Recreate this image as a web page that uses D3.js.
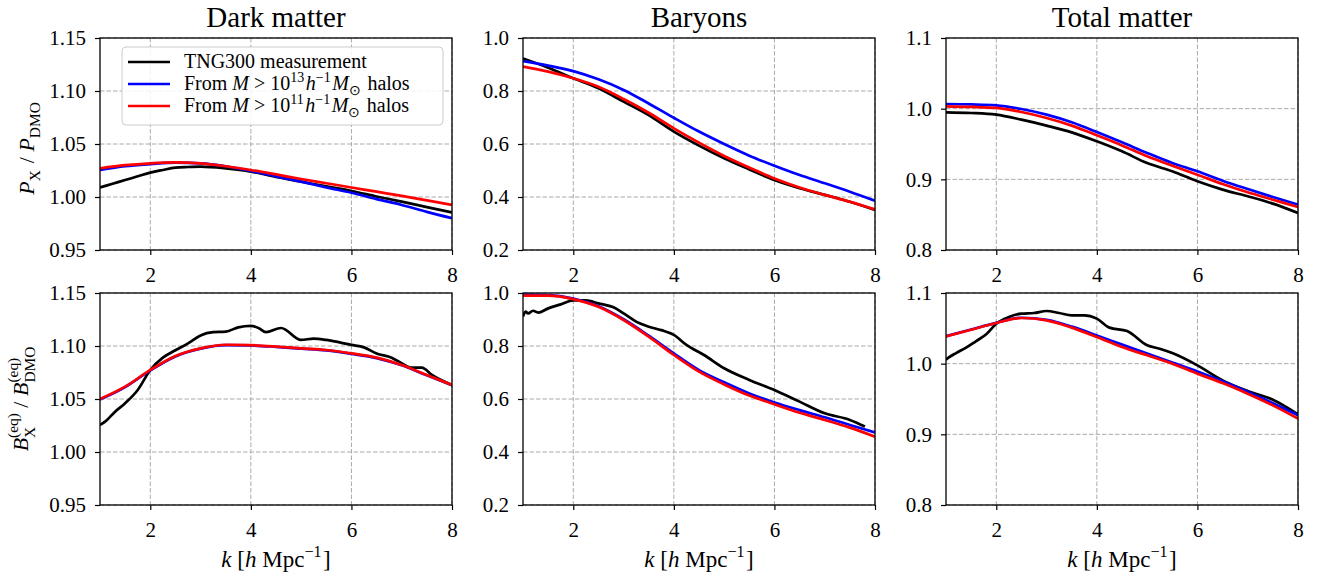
<!DOCTYPE html>
<html><head><meta charset="utf-8">
<script src="https://cdn.jsdelivr.net/npm/d3@7"></script>
<style>body{margin:0;background:#fff}svg{display:block}</style>
</head><body>
<svg id="c" width="1320" height="578"></svg>
<script>
// ---------------- data ----------------
const kGrid = [1,1.5,2,2.5,3,3.5,4,4.5,5,5.5,6,6.5,7,7.5,8];
const xTicks = [2,4,6,8];
const titles = ["Dark matter","Baryons","Total matter"];
const legendLabels = ["TNG300 measurement","From M > 10^13","From M > 10^11"];

// Dark matter, power ratio
const dmP_kMeas = [1,1.25,1.5,1.75,2,2.25,2.5,2.75,3,3.5,4,4.5,5,5.5,6,6.5,7,7.5,8];
const dmP_meas = [1.009,1.0125,1.016,1.0195,1.023,1.0255,1.0277,1.0283,1.0286,1.027,1.024,1.019,1.0145,1.010,1.0057,1.0005,0.9956,0.9905,0.9855];
const dmP_m13  = [1.0255,1.029,1.031,1.0324,1.0318,1.029,1.0245,1.0195,1.0145,1.009,1.004,0.998,0.9925,0.986,0.980];
const dmP_m11  = [1.027,1.030,1.0318,1.0327,1.0318,1.029,1.0255,1.0213,1.017,1.013,1.009,1.005,1.001,0.9968,0.9925];
// Dark matter, bispectrum ratio
const dmB_kMeas = [1,1.05,1.1,1.3,1.5,1.75,2,2.25,2.5,2.75,3,3.25,3.5,3.75,4,4.15,4.3,4.6,5,5.25,5.5,6,6.25,6.5,6.8,7,7.2,7.4,7.6,8];
const dmB_meas  = [1.0255,1.027,1.0286,1.038,1.046,1.0585,1.0774,1.089,1.096,1.1025,1.110,1.113,1.1135,1.1176,1.119,1.117,1.113,1.117,1.1057,1.107,1.1057,1.101,1.0987,1.093,1.089,1.0837,1.0796,1.0796,1.0727,1.0632];
const dmB_m13   = [1.0495,1.0612,1.077,1.0902,1.0975,1.1008,1.1005,1.0992,1.0975,1.0958,1.0926,1.0886,1.0818,1.0723,1.063];
const dmB_m11   = [1.050,1.0616,1.0774,1.0906,1.0978,1.1012,1.1008,1.0995,1.0978,1.0962,1.093,1.089,1.0821,1.0726,1.0632];

// Baryons, power ratio
const bP_kMeas = kGrid;
const bP_meas = [0.923,0.888,0.848,0.810,0.760,0.709,0.647,0.594,0.546,0.504,0.464,0.433,0.408,0.382,0.351];
const bP_m13  = [0.913,0.896,0.875,0.844,0.804,0.753,0.699,0.647,0.600,0.556,0.518,0.483,0.452,0.420,0.386];
const bP_m11  = [0.892,0.873,0.848,0.816,0.770,0.718,0.659,0.605,0.555,0.511,0.470,0.436,0.408,0.382,0.353];
// Baryons, bispectrum ratio
const bB_kMeas = [1,1.05,1.1,1.2,1.3,1.5,1.75,2,2.25,2.5,2.8,3,3.25,3.5,3.75,4,4.25,4.6,5,5.5,6,6.5,7,7.5,7.8];
const bB_meas  = [0.911,0.93,0.923,0.933,0.926,0.942,0.957,0.972,0.972,0.961,0.946,0.923,0.892,0.873,0.860,0.842,0.804,0.766,0.716,0.672,0.634,0.590,0.546,0.521,0.496];
const bB_m13   = [0.994,0.992,0.979,0.950,0.901,0.839,0.772,0.709,0.663,0.621,0.587,0.558,0.531,0.502,0.474];
const bB_m11   = [0.990,0.990,0.977,0.948,0.898,0.835,0.766,0.703,0.655,0.613,0.580,0.548,0.521,0.492,0.458];

// Total matter, power ratio
const tP_kMeas = kGrid;
const tP_meas = [0.9948,0.9939,0.9915,0.9844,0.976,0.9665,0.9538,0.9396,0.923,0.9113,0.8972,0.8854,0.876,0.8656,0.8524];
const tP_m13  = [1.0066,1.006,1.0047,0.9995,0.9915,0.9807,0.967,0.9524,0.9373,0.9231,0.9113,0.8981,0.8863,0.875,0.8642];
const tP_m11  = [1.0033,1.0025,1.001,0.9953,0.9868,0.976,0.9623,0.948,0.9325,0.9193,0.9066,0.8934,0.8816,0.8712,0.8608];
// Total matter, bispectrum ratio
const tB_kMeas = [1,1.05,1.2,1.4,1.6,1.8,2,2.25,2.5,2.75,3,3.25,3.5,3.75,4,4.25,4.6,5,5.25,5.5,6,6.5,7,7.5,8];
const tB_meas  = [1.0057,1.0085,1.015,1.0226,1.032,1.0415,1.0566,1.066,1.0708,1.0717,1.0745,1.0717,1.0684,1.0684,1.0637,1.051,1.0462,1.026,1.0212,1.015,0.9976,0.9764,0.9613,0.949,0.9283];
const tB_m13   = [1.0390,1.0483,1.0578,1.065,1.062,1.0525,1.040,1.027,1.0142,1.0015,0.989,0.975,0.960,0.944,0.927];
const tB_m11   = [1.0387,1.048,1.0575,1.0646,1.0613,1.051,1.0377,1.0236,1.0118,1.000,0.9858,0.9726,0.9575,0.941,0.9222];

const yDomains = [[0.95,1.15],[0.2,1.0],[0.8,1.1]];
const yTickVals = [[0.95,1.00,1.05,1.10,1.15],[0.2,0.4,0.6,0.8,1.0],[0.8,0.9,1.0,1.1]];
const yFormats = [".2f",".1f",".1f"];

// ---------------- layout ----------------
const FONT = "'Liberation Serif','Times New Roman',serif";
const colLeft = [100,523,946], rowTop = [38,293], PW = 352, PH = 212;
const colors = {meas:"#000000", m13:"#0000ff", m11:"#ff0000"};

const panels = [
  {r:0,c:0,k:[dmP_kMeas,kGrid,kGrid],v:[dmP_meas,dmP_m13,dmP_m11]},
  {r:0,c:1,k:[bP_kMeas,kGrid,kGrid],v:[bP_meas,bP_m13,bP_m11]},
  {r:0,c:2,k:[tP_kMeas,kGrid,kGrid],v:[tP_meas,tP_m13,tP_m11]},
  {r:1,c:0,k:[dmB_kMeas,kGrid,kGrid],v:[dmB_meas,dmB_m13,dmB_m11]},
  {r:1,c:1,k:[bB_kMeas,kGrid,kGrid],v:[bB_meas,bB_m13,bB_m11]},
  {r:1,c:2,k:[tB_kMeas,kGrid,kGrid],v:[tB_meas,tB_m13,tB_m11]},
];
const seriesColors = [colors.meas, colors.m13, colors.m11];

const svg = d3.select("#c");

// rich-text helper
function rich(parent, parts, size){
  const text = parent.append("text").attr("font-family",FONT).attr("font-size",size).attr("fill","#000");
  let pendingDx = 0, level = 0;
  parts.forEach(p=>{
    if(p.stack){
      const s1 = text.append("tspan").text(p.stack[0]).attr("font-size",size*0.7)
        .attr("dy",(-0.45*size - level)).attr("dx",pendingDx);
      const w1 = s1.node().getComputedTextLength();
      const s2 = text.append("tspan").text(p.stack[1]).attr("font-size",size*0.7)
        .attr("dx",-w1).attr("dy",0.75*size);
      const w2 = s2.node().getComputedTextLength();
      level = 0.3*size;
      pendingDx = Math.max(0,w1-w2);
      return;
    }
    let target = 0;
    if(p.sup) target = -0.42*size; else if(p.sub) target = 0.25*size;
    text.append("tspan").text(p.t)
      .attr("dy", target - level).attr("dx", pendingDx)
      .attr("font-size", (p.sup||p.sub) ? size*0.7 : size)
      .attr("font-style", p.it ? "italic" : "normal");
    pendingDx = (p.sup||p.sub) ? 1.5 : 0; level = target;
  });
  return text;
}

panels.forEach((p,i)=>{
  const x0 = colLeft[p.c], y0 = rowTop[p.r];
  const g = svg.append("g").attr("transform",`translate(${x0},${y0})`);
  const x = d3.scaleLinear().domain([1,8]).range([0,PW]);
  const y = d3.scaleLinear().domain(yDomains[p.c]).range([PH,0]);

  // grid
  g.append("g").selectAll("line.gx").data(xTicks).join("line")
    .attr("x1",d=>x(d)).attr("x2",d=>x(d)).attr("y1",0).attr("y2",PH)
    .attr("stroke","#aaaaaa").attr("stroke-width",1).attr("stroke-dasharray","4.5,2");
  g.append("g").selectAll("line.gy").data(yTickVals[p.c]).join("line")
    .attr("x1",0).attr("x2",PW).attr("y1",d=>y(d)).attr("y2",d=>y(d))
    .attr("stroke","#aaaaaa").attr("stroke-width",1).attr("stroke-dasharray","4.5,2");

  // lines
  const clip = "clip"+i;
  g.append("clipPath").attr("id",clip).append("rect").attr("width",PW).attr("height",PH);
  const line = d3.line().x(d=>x(d[0])).y(d=>y(d[1])).curve(d3.curveMonotoneX);
  p.v.forEach((vals,si)=>{
    const pts = vals.map((v,j)=>[p.k[si][j],v]);
    g.append("path").attr("d",line(pts)).attr("fill","none")
      .attr("stroke",seriesColors[si]).attr("stroke-width",2.7)
      .attr("stroke-linejoin","round").attr("clip-path",`url(#${clip})`);
  });

  // axes
  const xa = g.append("g").attr("transform",`translate(0,${PH})`)
    .call(d3.axisBottom(x).tickValues(xTicks).tickSize(5).tickPadding(8).tickFormat(d3.format("d")));
  const ya = g.append("g")
    .call(d3.axisLeft(y).tickValues(yTickVals[p.c]).tickSize(5).tickPadding(9).tickFormat(d3.format(yFormats[p.c])));
  [xa,ya].forEach(a=>{
    a.select(".domain").remove();
    a.selectAll(".tick line").attr("stroke","#000").attr("stroke-width",1.2);
    a.selectAll(".tick text").attr("font-family",FONT).attr("font-size",21).attr("fill","#000");
  });
  xa.selectAll(".tick text").attr("dy","0.9em");
  g.append("rect").attr("width",PW).attr("height",PH).attr("fill","none")
    .attr("stroke","#000").attr("stroke-width",1.3);

  if(p.r===0){
    g.append("text").attr("x",PW/2).attr("y",-11).attr("text-anchor","middle")
      .attr("font-family",FONT).attr("font-size",29).text(titles[p.c]);
  }
  if(p.r===1){
    const t = rich(g,[{t:"k",it:true},{t:" [",},{t:"h",it:true},{t:" Mpc"},{t:"\u22121",sup:true},{t:"]"}],23);
    const w = t.node().getBBox().width;
    t.attr("x",0).attr("transform",`translate(${PW/2 - w/2},${PH+62})`);
  }
  if(p.c===0 && p.r===0){
    const t = rich(g,[{t:"P",it:true},{t:"X",sub:true},{t:" / "},{t:"P",it:true},{t:"DMO",sub:true}],22);
    const w = t.node().getBBox().width;
    t.attr("transform",`translate(-66,${PH/2 + w/2 + 4}) rotate(-90)`);
    // legend
    const L = g.append("g");
    L.append("rect").attr("x",22).attr("y",9).attr("width",321).attr("height",78).attr("rx",4)
      .attr("fill","#fff").attr("fill-opacity",0.85).attr("stroke","#cccccc").attr("stroke-width",1);
    const rowsY = [24,46,68];
    const labels = [
      [{t:legendLabels[0]}],
      [{t:"From "},{t:"M",it:true},{t:" > 10"},{t:"13",sup:true},{t:"h",it:true},{t:"\u22121",sup:true},{t:"M",it:true},{t:"\u2299",sub:true},{t:" halos"}],
      [{t:"From "},{t:"M",it:true},{t:" > 10"},{t:"11",sup:true},{t:"h",it:true},{t:"\u22121",sup:true},{t:"M",it:true},{t:"\u2299",sub:true},{t:" halos"}],
    ];
    rowsY.forEach((ry,ri)=>{
      L.append("line").attr("x1",28).attr("x2",70).attr("y1",ry).attr("y2",ry)
        .attr("stroke",seriesColors[ri]).attr("stroke-width",2.7);
      const t = rich(L,labels[ri],20);
      t.attr("transform",`translate(84,${ry+6})`);
    });
  }
  if(p.c===0 && p.r===1){
    const t = rich(g,[{t:"B",it:true},{stack:["(eq)","X"]},{t:" / "},{t:"B",it:true},{stack:["(eq)","DMO"]}],22);
    const w = t.node().getBBox().width;
    t.attr("transform",`translate(-72,${PH/2 + w/2}) rotate(-90)`);
  }
});
</script>
</body></html>
